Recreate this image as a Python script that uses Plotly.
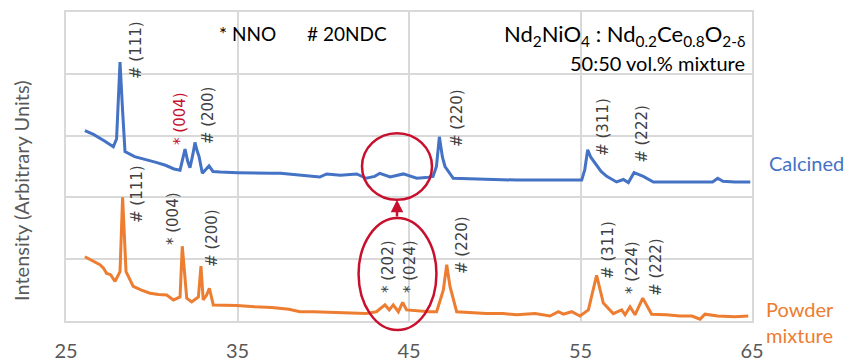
import plotly.graph_objects as go

# ---------------- data ----------------
calcined_x = [26.1, 26.6, 27.2, 27.76, 27.95, 28.15, 28.3, 28.44, 29.0, 29.6, 30.2, 30.8, 31.3, 31.65,
              31.8, 31.94, 32.1, 32.23, 32.4, 32.52, 32.65, 32.76, 32.95, 33.15, 33.34, 33.57, 34.0,
              35.0, 36.0, 37.0, 37.5, 38.6, 39.3, 39.8, 40.2, 41.0, 41.95, 42.5, 43.0, 43.3, 43.9,
              44.67, 45.45, 46.0, 46.4, 46.6, 46.77, 46.95, 47.1, 47.58, 48.5, 49.5, 50.5, 51.3, 52.5,
              53.5, 54.5, 55.07, 55.25, 55.42, 55.6, 55.85, 56.2, 56.53, 57.1, 57.5, 57.79, 58.12,
              58.66, 59.25, 60.0, 61.0, 62.0, 62.7, 63.0, 63.3, 64.0, 64.9]
calcined_y = [3.08, 3.02, 2.92, 2.82, 2.95, 4.19, 3.4, 2.74, 2.66, 2.62, 2.57, 2.52, 2.46, 2.44,
              2.6, 2.78, 2.58, 2.48, 2.7, 2.89, 2.75, 2.66, 2.39, 2.45, 2.51, 2.42, 2.41,
              2.40, 2.39, 2.39, 2.39, 2.36, 2.35, 2.33, 2.38, 2.36, 2.38, 2.31, 2.34, 2.39, 2.33,
              2.38, 2.31, 2.32, 2.34, 2.5, 2.98, 2.65, 2.5, 2.31, 2.30, 2.29, 2.29, 2.28, 2.28,
              2.28, 2.28, 2.28, 2.45, 2.77, 2.65, 2.55, 2.42, 2.34, 2.25, 2.29, 2.24, 2.40,
              2.34, 2.25, 2.25, 2.24, 2.25, 2.25, 2.31, 2.26, 2.25, 2.25]

powder_x = [26.1, 26.5, 26.98, 27.2, 27.37, 27.6, 27.86, 28.15, 28.3, 28.5, 28.92, 29.4, 29.9, 30.4,
            30.87, 31.26, 31.65, 31.78, 32.04, 32.33, 32.72, 32.87, 33.0, 33.2, 33.36, 33.59, 34.3,
            34.95, 36.0, 37.0, 38.0, 38.64, 39.42, 40.5, 41.5, 42.5, 43.1, 43.6, 43.85, 44.08, 44.38,
            44.63, 44.86, 45.5, 46.2, 46.61, 47.0, 47.2, 47.39, 47.78, 48.5, 49.5, 50.5, 51.28, 52.35,
            53.22, 53.71, 54.0, 54.49, 54.97, 55.46, 55.94, 56.33, 56.91, 57.4, 57.6, 57.89, 58.18,
            58.63, 59.15, 60.0, 60.8, 61.5, 61.97, 62.26, 63.0, 64.0, 64.78]
powder_y = [1.04, 0.98, 0.91, 0.85, 0.77, 0.75, 0.64, 0.80, 2.0, 0.80, 0.56, 0.50, 0.45, 0.43,
            0.42, 0.34, 0.39, 1.21, 0.37, 0.31, 0.39, 0.89, 0.34, 0.42, 0.53, 0.26, 0.26,
            0.25, 0.23, 0.22, 0.19, 0.15, 0.15, 0.14, 0.13, 0.12, 0.15, 0.26, 0.18, 0.26, 0.15,
            0.30, 0.18, 0.16, 0.15, 0.15, 0.50, 0.91, 0.56, 0.15, 0.14, 0.12, 0.12, 0.10, 0.12,
            0.08, 0.15, 0.11, 0.15, 0.08, 0.18, 0.74, 0.29, 0.12, 0.18, 0.10, 0.23, 0.10,
            0.37, 0.11, 0.10, 0.08, 0.08, 0.03, 0.11, 0.08, 0.07, 0.08]

x_ticks = [25, 35, 45, 55, 65]

# peak labels: (text, x, y)
calcined_labels = [("# (111)", 29.08, 4.385), ("* (004)", 31.65, 3.27), ("# (200)", 33.28, 3.33),
                   ("# (220)", 47.80, 3.285), ("# (311)", 56.31, 3.14), ("# (222)", 58.59, 3.03)]
powder_labels = [("# (111)", 29.14, 2.055), ("* (004)", 31.24, 1.65), ("# (200)", 33.51, 1.343),
                 ("* (202)", 43.78, 0.874), ("* (024)", 45.06, 0.874), ("# (220)", 48.09, 1.23),
                 ("# (311)", 56.60, 1.149), ("* (224)", 58.00, 0.874), ("# (222)", 59.40, 0.874)]

X_RANGE = [25, 65]
Y_RANGE = [0, 5]

BLUE = "#4472C4"
ORANGE = "#ED7D31"
RED = "#C8102E"
LABEL_GRAY = "#404040"
AXIS_GRAY = "#595959"
GRID = "#D9D9D9"
FONT = "Lato"


def px_(x):
    return (x - X_RANGE[0]) / (X_RANGE[1] - X_RANGE[0])


def py_(y):
    return (y - Y_RANGE[0]) / (Y_RANGE[1] - Y_RANGE[0])


fig = go.Figure()
fig.add_trace(go.Scatter(x=calcined_x, y=calcined_y, mode="lines",
                         line=dict(color=BLUE, width=3), name="Calcined"))
fig.add_trace(go.Scatter(x=powder_x, y=powder_y, mode="lines",
                         line=dict(color=ORANGE, width=3), name="Powder mixture"))

ann = []
for t, x, y in calcined_labels:
    col = RED if "004" in t else LABEL_GRAY
    ann.append(dict(x=x, y=y, xref="x", yref="y", text=t, textangle=-90, showarrow=False,
                    xanchor="center", yanchor="middle",
                    font=dict(family="DejaVu Sans", size=15, color=col)))
for t, x, y in powder_labels:
    ann.append(dict(x=x, y=y, xref="x", yref="y", text=t, textangle=-90, showarrow=False,
                    xanchor="center", yanchor="middle",
                    font=dict(family="DejaVu Sans", size=15, color=LABEL_GRAY)))

ann += [
    dict(x=0.2653, y=0.932, xref="paper", yref="paper", text="* NNO", showarrow=False,
         xanchor="center", yanchor="middle", font=dict(family=FONT, size=19, color="#000000")),
    dict(x=0.4096, y=0.932, xref="paper", yref="paper", text="# 20NDC", showarrow=False,
         xanchor="center", yanchor="middle", font=dict(family=FONT, size=19, color="#000000")),
    dict(x=0.9927, y=0.925, xref="paper", yref="paper",
         text="Nd<sub>2</sub>NiO<sub>4</sub> : Nd<sub>0.2</sub>Ce<sub>0.8</sub>O<sub>2-δ</sub>",
         showarrow=False, xanchor="right", yanchor="middle",
         font=dict(family=FONT, size=22, color="#000000")),
    dict(x=0.9927, y=0.835, xref="paper", yref="paper", text="50:50 vol.% mixture",
         showarrow=False, xanchor="right", yanchor="middle",
         font=dict(family=FONT, size=20, color="#000000")),
    dict(x=1.0219, y=0.511, xref="paper", yref="paper", text="Calcined", showarrow=False,
         xanchor="left", yanchor="middle", font=dict(family=FONT, size=20, color=BLUE)),
    dict(x=1.0175, y=-0.003, xref="paper", yref="paper", text="Powder<br>mixture", showarrow=False,
         xanchor="left", yanchor="middle", align="left",
         font=dict(family=FONT, size=20, color=ORANGE)),
    dict(x=-0.0656, y=0.424, xref="paper", yref="paper", text="Intensity (Arbitrary Units)",
         textangle=-90, showarrow=False, xanchor="center", yanchor="middle",
         font=dict(family=FONT, size=20, color=AXIS_GRAY)),
    # arrow from the lower ellipse to the upper circle
    dict(x=44.3, y=1.96, ax=44.3, ay=1.667, xref="x", yref="y", axref="x", ayref="y",
         text="", showarrow=True, arrowhead=2, arrowsize=1, arrowwidth=2.5, arrowcolor=RED),
]

# ellipses (paper-referenced so the lower one may extend below the plot area)
shapes = [
    dict(type="circle", xref="paper", yref="paper",
         x0=px_(44.3 - 2.04), x1=px_(44.3 + 2.04), y0=py_(2.5 - 0.54), y1=py_(2.5 + 0.54),
         line=dict(color=RED, width=2.5)),
    dict(type="circle", xref="paper", yref="paper",
         x0=px_(44.33 - 2.27), x1=px_(44.33 + 2.27), y0=py_(0.76 - 0.906), y1=py_(0.76 + 0.906),
         line=dict(color=RED, width=2.5)),
]

fig.update_layout(
    width=848, height=361,
    margin=dict(l=66, r=96, t=12, b=40, autoexpand=False),
    paper_bgcolor="white", plot_bgcolor="white",
    showlegend=False,
    annotations=ann, shapes=shapes,
    xaxis=dict(range=X_RANGE, tickvals=x_ticks, ticktext=[str(v) for v in x_ticks],
               automargin=False,
               showgrid=True, gridcolor=GRID, gridwidth=1.5, zeroline=False,
               showline=True, linecolor=GRID, linewidth=1.5, mirror=True,
               ticks="outside", ticklen=11, tickcolor="rgba(0,0,0,0)",
               tickfont=dict(family=FONT, size=20, color=AXIS_GRAY)),
    yaxis=dict(range=Y_RANGE, dtick=1, showticklabels=False, showgrid=True, gridcolor=GRID,
               automargin=False,
               gridwidth=1.5, zeroline=False, showline=True, linecolor=GRID, linewidth=1.5,
               mirror=True),
)

fig.write_html("out.html")
